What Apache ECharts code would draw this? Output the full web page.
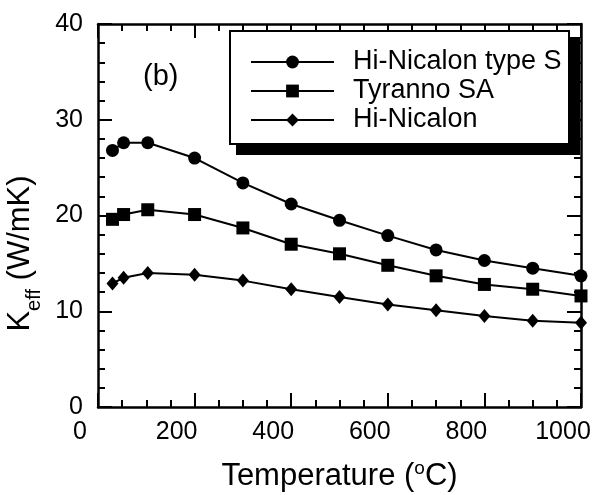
<!DOCTYPE html>
<html>
<head>
<meta charset="utf-8">
<script src="https://cdn.jsdelivr.net/npm/echarts@6/dist/echarts.min.js"></script>
<style>
  html, body { margin: 0; padding: 0; background: #fff; }
  #chart { width: 595px; height: 495px; }
</style>
</head>
<body>
<div id="chart"></div>
<script>
// temperature (oC)
var temps = [30, 53, 103, 200, 300, 400, 500, 600, 700, 800, 900, 1000];
// K_eff (W/mK)
var typeS = [26.8, 27.6, 27.6, 26.0, 23.4, 21.2, 19.5, 17.9, 16.4, 15.3, 14.5, 13.7];
var tyrannoSA = [19.6, 20.1, 20.6, 20.1, 18.7, 17.0, 16.0, 14.8, 13.7, 12.8, 12.3, 11.6];
var hiNicalon = [12.9, 13.5, 14.0, 13.8, 13.2, 12.3, 11.5, 10.7, 10.1, 9.5, 9.0, 8.8];
var seriesNames = ['Hi-Nicalon type S', 'Tyranno SA', 'Hi-Nicalon'];

var font = 'Arial, "Liberation Sans", sans-serif';

function pairs(ys) {
    return temps.map(function (t, i) { return [t, ys[i]]; });
}

function tickAxis(extra) {
    var base = {
        type: 'value',
        axisLine: { show: true, onZero: false, lineStyle: { color: '#000', width: 2.5 } },
        axisTick: { show: true, inside: true, length: 14, lineStyle: { color: '#000', width: 2 } },
        splitLine: { show: false },
        minorSplitLine: { show: false }
    };
    return Object.assign(base, extra);
}

var chart = echarts.init(document.getElementById('chart'));
chart.setOption({
    backgroundColor: '#fff',
    animation: false,
    textStyle: { fontFamily: font, color: '#000' },
    grid: { left: 98, right: 14, top: 24, bottom: 88, outerBoundsMode: 'none', containLabel: false },
    legend: {
        orient: 'vertical',
        left: 230,
        top: 31,
        itemWidth: 83,
        itemHeight: 16,
        itemGap: 1,
        padding: [17, 8, 10, 20],
        textStyle: { fontSize: 27, color: '#000', fontFamily: font, lineHeight: 28, padding: [0, 0, 0, 14] },
        data: seriesNames
    },
    xAxis: [
        tickAxis({
            position: 'bottom',
            min: 0, max: 1000, interval: 200,
            minorTick: { show: true, splitNumber: 4, length: 7, lineStyle: { color: '#000', width: 2 } },
            axisLabel: {
                fontSize: 25, color: '#000', fontFamily: font, margin: 13,
                padding: [0, 36, 0, 0],
                formatter: function (v) { return String(v); }
            },
            name: '{a|Temperature (}{s|o}{a|C)}',
            nameLocation: 'middle',
            nameGap: 52,
            nameTextStyle: {
                rich: {
                    a: { fontSize: 31, fontFamily: font, color: '#000', verticalAlign: 'bottom' },
                    s: { fontSize: 19, fontFamily: font, color: '#000', verticalAlign: 'bottom', padding: [0, 0, 14, 0] }
                }
            }
        }),
        tickAxis({
            position: 'top',
            min: 0, max: 1000, interval: 200,
            minorTick: { show: true, splitNumber: 4, length: 7, lineStyle: { color: '#000', width: 2 } },
            axisLabel: { show: false }
        })
    ],
    yAxis: [
        tickAxis({
            position: 'left',
            min: 0, max: 40, interval: 10,
            minorTick: { show: true, splitNumber: 5, length: 7, lineStyle: { color: '#000', width: 2 } },
            axisLabel: { fontSize: 25, color: '#000', fontFamily: font, margin: 15 },
            name: '{k|K}{s|eff}{k| (W/mK)}',
            nameLocation: 'middle',
            nameRotate: 90,
            nameGap: 50,
            nameTextStyle: {
                padding: [0, 76, 0, 0],
                rich: {
                    k: { fontSize: 31, fontFamily: font, color: '#000', verticalAlign: 'bottom', padding: [0, 0, 8, 0] },
                    s: { fontSize: 20, fontFamily: font, color: '#000', verticalAlign: 'bottom' }
                }
            }
        }),
        tickAxis({
            position: 'right',
            min: 0, max: 40, interval: 10,
            minorTick: { show: true, splitNumber: 5, length: 7, lineStyle: { color: '#000', width: 2 } },
            axisLabel: { show: false }
        })
    ],
    graphic: [
        {
            type: 'rect', z: 3,
            shape: { x: 236, y: 37, width: 344, height: 118 },
            style: { fill: '#000' }
        },
        {
            type: 'rect', z: 3,
            shape: { x: 230, y: 31, width: 339, height: 113 },
            style: { fill: '#fff', stroke: '#000', lineWidth: 2 }
        },
        {
            type: 'text', z: 3,
            left: 143,
            top: 62,
            style: { text: '(b)', fontSize: 29, fontFamily: font, fill: '#000' }
        }
    ],
    series: [
        {
            name: seriesNames[0], type: 'line', data: pairs(typeS),
            symbol: 'circle', symbolSize: 13,
            lineStyle: { color: '#000', width: 2 }, itemStyle: { color: '#000' }
        },
        {
            name: seriesNames[1], type: 'line', data: pairs(tyrannoSA),
            symbol: 'rect', symbolSize: 13,
            lineStyle: { color: '#000', width: 2 }, itemStyle: { color: '#000' }
        },
        {
            name: seriesNames[2], type: 'line', data: pairs(hiNicalon),
            symbol: 'diamond', symbolSize: [12, 14],
            lineStyle: { color: '#000', width: 2 }, itemStyle: { color: '#000' }
        }
    ]
});
</script>
</body>
</html>
